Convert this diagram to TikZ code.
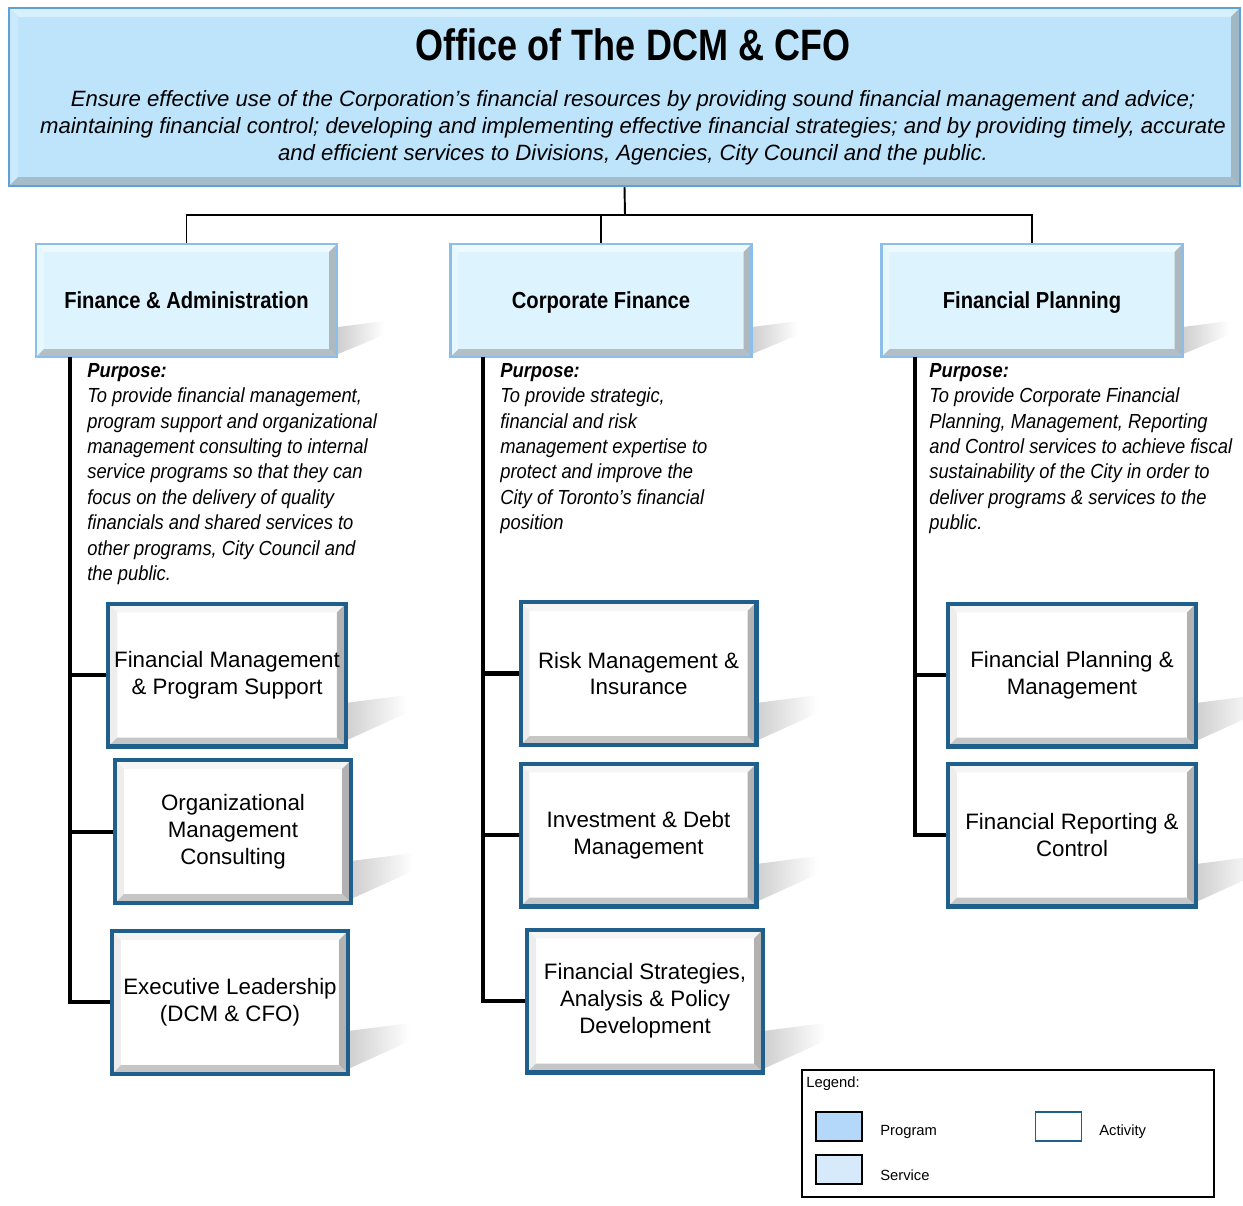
\documentclass[tikz,border=0pt]{standalone}
\usepackage{fontspec}
\setmainfont{Liberation Sans}
\newfontfamily\titlefont{Liberation Sans}[FakeStretch=0.82]
\newfontfamily\headfont{Liberation Sans}[FakeStretch=0.87]
\newfontfamily\purposefont{Liberation Sans}[FakeStretch=0.9]
\usetikzlibrary{calc,positioning}
\definecolor{topface}{RGB}{190,228,252}
\definecolor{topline}{RGB}{95,160,215}
\definecolor{progface}{RGB}{221,243,254}
\definecolor{progline}{RGB}{140,190,235}
\definecolor{actline}{RGB}{31,95,140}
\definecolor{legprog}{RGB}{180,216,250}
\definecolor{legserv}{RGB}{214,234,251}
\newcommand\bevel[5]{%
\coordinate (bvnw) at (path picture bounding box.north west);
\coordinate (bvse) at (path picture bounding box.south east);
\fill[#1] let \p1=(bvnw),\p2=(bvse) in (\x1,\y1)--(\x2,\y1)--(\x2-#5,\y1-#5)--(\x1+#5,\y1-#5)--cycle;
\fill[#2] let \p1=(bvnw),\p2=(bvse) in (\x1,\y1)--(\x1+#5,\y1-#5)--(\x1+#5,\y2+#5)--(\x1,\y2)--cycle;
\fill[#3] let \p1=(bvnw),\p2=(bvse) in (\x2,\y1)--(\x2-#5,\y1-#5)--(\x2-#5,\y2+#5)--(\x2,\y2)--cycle;
\fill[#4] let \p1=(bvnw),\p2=(bvse) in (\x1,\y2)--(\x2,\y2)--(\x2-#5,\y2+#5)--(\x1+#5,\y2+#5)--cycle;
}
\tikzset{
officebox/.style={draw=topline,line width=1.2pt,fill=topface,minimum width=24.62cm,minimum height=3.56cm,
  path picture={\bevel{topface!60!white}{topface!80!white}{topface!55!gray}{topface!60!gray}{5pt}}},
progbox/.style={draw=progline,line width=1.2pt,fill=progface,minimum width=6.02cm,minimum height=2.26cm,
  text height=2.1ex,text depth=0.3ex,font=\headfont\bfseries\fontsize{13.2}{15}\selectfont,
  path picture={\bevel{progface!50!white}{progface!70!white}{progface!50!gray}{progface!55!gray}{4.5pt}}},
actbox/.style={draw=actline,line width=2.3pt,fill=white,minimum width=4.72cm,minimum height=2.86cm,
  align=center,font=\fontsize{12.7}{15.3}\selectfont,
  path picture={\bevel{gray!8}{gray!14}{gray!60}{gray!45}{5pt}}},
purpose/.style={anchor=north west,inner sep=0pt,align=left,font=\purposefont\itshape\fontsize{11.6}{14.45}\selectfont},
link/.style={line width=1.1pt},
trunk/.style={line width=2.3pt},
boxshade/.style={left color=gray!38,right color=white,draw=none},
legsq/.style={draw,line width=0.9pt,minimum width=0.92cm,minimum height=0.58cm},
leglabel/.style={anchor=west,inner sep=0pt,font=\fontsize{8.4}{10}\selectfont}
}
\begin{document}
\begin{tikzpicture}[x=0.02cm,y=-0.02cm]
\useasboundingbox (0,0) rectangle (1243,1205);
% top office
\node[officebox] (office) at (624.5,97) {};
\node[anchor=base,font=\titlefont\bfseries\fontsize{25}{30}\selectfont] (title) at (633,60) {Office of The DCM \& CFO};
\node[align=center,font=\itshape\fontsize{12.6}{15.3}\selectfont] (mission) at (633,128)
{Ensure effective use of the Corporation’s financial resources by providing sound financial management and advice;\\
maintaining financial control; developing and implementing effective financial strategies; and by providing timely, accurate\\
and efficient services to Divisions, Agencies, City Council and the public.};
% shadows
\foreach \x in {338,752,1183}
  \shade[boxshade] (\x,354) -- ++(0,-27) -- ++(46,-6) -- ++(0,14) -- cycle;
\foreach \x/\y in {345/741,351/899,348/1069,756/741,756/902,763/1069,1196/741,1196/902}
  \shade[boxshade] (\x,\y) -- ++(0,-38) -- ++(62,-8) -- ++(0,18) -- cycle;
% programs
\node[progbox] (fa) at (186.5,300.5) {Finance \& Administration};
\node[progbox] (cf) at (601,300.5) {Corporate Finance};
\node[progbox] (fp) at (1032,300.5) {Financial Planning};
\coordinate (hub) at (625,215);
\draw[link] (office.south) -- (hub);
\draw[link] (fa.north) |- (hub) -| (fp.north);
\draw[link] (hub -| cf.north) -- (cf.north);
% purposes
\node[purpose] (faP) at (87,363) {\textbf{Purpose:}\\To provide financial management,\\program support and organizational\\management consulting to internal\\service programs so that they can\\focus on the delivery of quality\\financials and shared services to\\other programs, City Council and\\the public.};
\node[purpose] (cfP) at (500,363) {\textbf{Purpose:}\\To provide strategic,\\financial and risk\\management expertise to\\protect and improve the\\City of Toronto’s financial\\position};
\node[purpose] (fpP) at (929,363) {\textbf{Purpose:}\\To provide Corporate Financial\\Planning, Management, Reporting\\and Control services to achieve fiscal\\sustainability of the City in order to\\deliver programs \& services to the\\public.};
% activities
\coordinate (faT) at (70,357);
\coordinate (cfT) at (483,357);
\coordinate (fpT) at (915,357);
\draw[trunk] (faT) |- (230,1001.5);
\draw[trunk] (cfT) |- (645,1001);
\draw[trunk] (fpT) |- (1072,835);
\node[actbox] (fa1) at (227,675) {Financial Management\\\& Program Support};
\node[actbox] (fa2) at (233,831.5) {Organizational\\Management\\Consulting};
\node[actbox] (fa3) at (230,1002.5) {Executive Leadership\\(DCM \& CFO)};
\node[actbox] (cf1) at (638.5,673.5) {Risk Management \&\\Insurance};
\node[actbox] (cf2) at (638.5,835) {Investment \& Debt\\Management};
\node[actbox] (cf3) at (645,1001) {Financial Strategies,\\Analysis \& Policy\\Development};
\node[actbox,minimum width=4.96cm] (fp1) at (1072,675) {Financial Planning \&\\Management};
\node[actbox,minimum width=4.96cm] (fp2) at (1072,835) {Financial Reporting \&\\Control};
\foreach \a/\b in {faT/fa1,faT/fa2,cfT/cf1,cfT/cf2,fpT/fp1}
  \draw[trunk] (\a |- \b.west) -- (\b.west);
% legend
\node[draw,line width=0.8pt,minimum width=8.24cm,minimum height=2.54cm] (legend) at (1008,1133.5) {};
\node[anchor=north west,inner sep=0pt,font=\fontsize{8.4}{10}\selectfont] (legtitle) at (806,1076) {Legend:};
\node[legsq,fill=legprog] (sqprog) at (839,1126.5) {};
\node[legsq,fill=legserv] (sqserv) at (839,1169.5) {};
\node[legsq,draw=actline,fill=white] (sqact) at (1058.5,1126.5) {};
\node[leglabel] (lbprog) at (880,1132) {Program};
\node[leglabel] (lbserv) at (880,1175) {Service};
\node[leglabel] (lbact) at (1099,1132) {Activity};
\end{tikzpicture}
\end{document}
